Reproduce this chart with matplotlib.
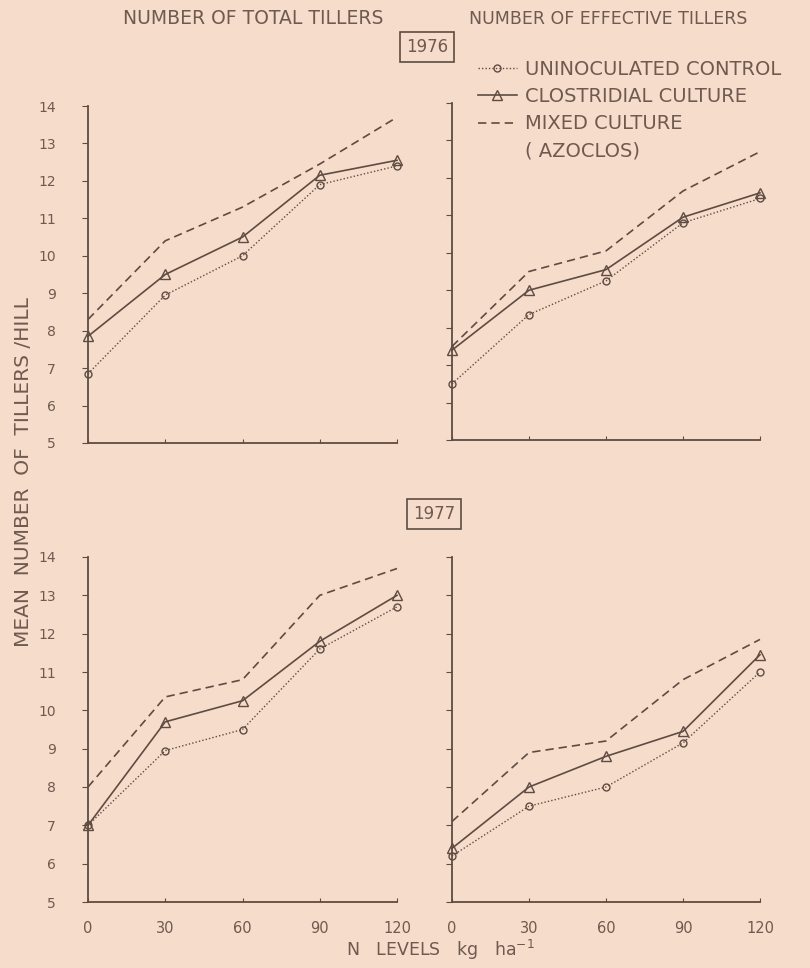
import matplotlib
matplotlib.use("Agg")
import matplotlib.pyplot as plt
from matplotlib.lines import Line2D
import numpy as np

# N levels (kg/ha)
n_levels = [0, 30, 60, 90, 120]

# 1976 - total tillers
total_1976_control = [6.85, 8.95, 10.0, 11.9, 12.4]
total_1976_clost = [7.85, 9.5, 10.5, 12.15, 12.55]
total_1976_mixed = [8.3, 10.4, 11.3, 12.45, 13.7]

# 1976 - effective tillers
eff_1976_control = [6.5, 8.35, 9.25, 10.8, 11.45]
eff_1976_clost = [7.4, 9.0, 9.55, 10.95, 11.6]
eff_1976_mixed = [7.5, 9.5, 10.05, 11.65, 12.7]

# 1977 - total tillers
total_1977_control = [7.0, 8.95, 9.5, 11.6, 12.7]
total_1977_clost = [7.0, 9.7, 10.25, 11.8, 13.0]
total_1977_mixed = [8.0, 10.35, 10.8, 13.0, 13.7]

# 1977 - effective tillers
eff_1977_control = [6.2, 7.5, 8.0, 9.15, 11.0]
eff_1977_clost = [6.4, 8.0, 8.8, 9.45, 11.45]
eff_1977_mixed = [7.1, 8.9, 9.2, 10.8, 11.85]

y_ticks = [5, 6, 7, 8, 9, 10, 11, 12, 13, 14]
legend_labels = ["UNINOCULATED CONTROL", "CLOSTRIDIAL CULTURE", "MIXED CULTURE", "( AZOCLOS)"]

BG = "#f6dccb"
INK = "#5e4c42"
TXT = "#6e5a4f"

plt.rcParams['font.family'] = ['DejaVu Sans']

fig = plt.figure(figsize=(8.1, 9.68), dpi=100)
fig.patch.set_facecolor(BG)

W, H = 810.0, 968.0
def box(x0, x1, ybot, ytop):
    return [x0 / W, 1 - ybot / H, (x1 - x0) / W, (ybot - ytop) / H]

panels = [
    (box(88, 397, 443, 106), (total_1976_control, total_1976_clost, total_1976_mixed), True, False),
    (box(452, 760, 440, 103), (eff_1976_control, eff_1976_clost, eff_1976_mixed), False, False),
    (box(88, 397, 902, 557), (total_1977_control, total_1977_clost, total_1977_mixed), True, True),
    (box(452, 760, 902, 557), (eff_1977_control, eff_1977_clost, eff_1977_mixed), False, True),
]

styles = [
    dict(linestyle=(0, (1, 1.5)), marker="o", markersize=5, linewidth=1.0),
    dict(linestyle="-", marker="^", markersize=6.5, linewidth=1.2),
    dict(linestyle=(0, (5, 3)), marker=None, linewidth=1.2),
]

handles = None
for rect, series, ylabels, xlabels in panels:
    ax = fig.add_axes(rect)
    ax.set_facecolor("none")
    hs = []
    for vals, st in zip(series, styles):
        h, = ax.plot(n_levels, vals, color=INK, markerfacecolor="none",
                     markeredgecolor=INK, markeredgewidth=1.0, clip_on=False, **st)
        hs.append(h)
    handles = hs
    ax.set_xlim(0, 120)
    ax.set_ylim(5, 14)
    for s in ["top", "right"]:
        ax.spines[s].set_visible(False)
    for s in ["left", "bottom"]:
        ax.spines[s].set_color(INK)
        ax.spines[s].set_linewidth(1.3)
    ax.set_yticks(y_ticks)
    ax.set_xticks(n_levels)
    ax.tick_params(axis="y", direction="out", length=4, color=INK, labelcolor=TXT,
                   labelsize=10, pad=19, labelleft=ylabels)
    ax.tick_params(axis="x", direction="in", length=3, color=INK, labelcolor=TXT,
                   labelsize=10.5, pad=14, labelbottom=xlabels)

fig.text(253 / W, 1 - 19 / H, "NUMBER OF TOTAL TILLERS", ha="center", va="center",
         fontsize=13.5, color=TXT)
fig.text(608 / W, 1 - 19 / H, "NUMBER OF EFFECTIVE TILLERS", ha="center", va="center",
         fontsize=12.5, color=TXT)
for label, (x, y) in zip(["1976", "1977"], [(427, 47), (434, 514)]):
    fig.text(x / W, 1 - y / H, label, ha="center", va="center", fontsize=12, color=TXT,
             bbox=dict(boxstyle="square,pad=0.35", facecolor="none", edgecolor=INK, linewidth=1.2))

blank = Line2D([], [], alpha=0)
fig.legend(handles + [blank], legend_labels, loc="upper left",
           bbox_to_anchor=(478 / W, 1 - 60 / H),
           frameon=False, fontsize=14, labelcolor=TXT, handlelength=2.0,
           handletextpad=0.4, labelspacing=0.42, borderaxespad=0, borderpad=0)

fig.text(24 / W, 1 - 472 / H, "MEAN  NUMBER  OF  TILLERS /HILL", rotation=90, ha="center",
         va="center", fontsize=14.5, color=TXT)
fig.text(440 / W, 1 - 950 / H, "N   LEVELS   kg   ha$^{-1}$", ha="center", va="center",
         fontsize=12.5, color=TXT)

fig.savefig("out.png", dpi=100, facecolor=BG)
